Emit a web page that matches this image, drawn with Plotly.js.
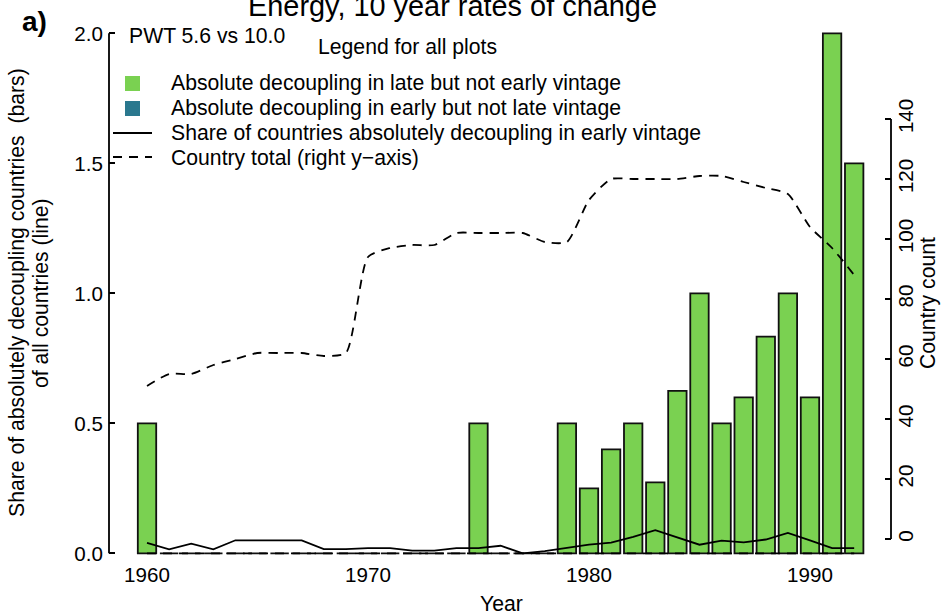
<!DOCTYPE html>
<html>
<head>
<meta charset="utf-8">
<script src="https://cdn.plot.ly/plotly-3.0.1.min.js"></script>
<style>html,body{margin:0;padding:0;background:#fff;}#chart{width:951px;height:613px;}</style>
</head>
<body>
<div id="chart"></div>
<script>
// ---- data ----
const years = [1960,1961,1962,1963,1964,1965,1966,1967,1968,1969,1970,1971,1972,1973,1974,1975,1976,1977,1978,1979,1980,1981,1982,1983,1984,1985,1986,1987,1988,1989,1990,1991,1992];
// bars: absolute decoupling in late but not early vintage
const lateNotEarly = [0.5,0,0,0,0,0,0,0,0,0,0,0,0,0,0,0.5,0,0,0,0.5,0.25,0.4,0.5,0.273,0.625,1.0,0.5,0.6,0.833,1.0,0.6,2.0,1.5];
// solid line: share of countries absolutely decoupling in early vintage
const earlyShare = [0.04,0.015,0.037,0.015,0.05,0.05,0.05,0.05,0.016,0.016,0.02,0.02,0.01,0.01,0.02,0.02,0.029,0,0.008,0.02,0.033,0.041,0.063,0.089,0.06,0.033,0.049,0.042,0.053,0.078,0.05,0.02,0.02];
// dashed line at the bottom (left axis)
const lateShare = [0,0,0,0,0,0,0,0,0,0,0,0,0,0,0,0,0,0,0,0,0,0,0,0,0,0,0,0,0,0,0,0,0];
// dashed line: country total (right axis)
const countryTotal = [51,55,55,58,60,62,62,62,61,62,94,97,98,98,102,102,102,102,99,99,113,120,120,120,120,121,121,119,117,115,104,97,88];

const xTickVals = [1960,1970,1980,1990];
const xTickText = ['1960','1970','1980','1990'];
const yTickVals = [0,0.5,1,1.5,2];
const yTickText = ['0.0','0.5','1.0','1.5','2.0'];
const y2TickVals = [0,20,40,60,80,100,120,140];
const y2TickText = ['0','20','40','60','80','100','120','140'];

const GREEN = '#7AD151', TEAL = '#2A788E';
const FONT = 'Liberation Sans, Arial, Helvetica, sans-serif';
const FS = 21.2, TFS = 20.6;

// ---- layout helpers (pixel -> paper) ----
const L = 109, R = 60, T = 20, B = 53, W = 951, H = 613;
const pw = W - L - R, ph = H - T - B;
const px = x => (x - L) / pw;
const py = y => (H - B - y) / ph;

const traces = [
  {type:'bar', x: years, y: lateNotEarly, width: 0.833, marker:{color:GREEN, line:{color:'#111', width:1.8}}, yaxis:'y', hoverinfo:'skip'},
  {type:'scatter', mode:'lines', x: years, y: lateShare, line:{color:'#000', width:1.8, dash:'9px,7px'}, yaxis:'y', hoverinfo:'skip'},
  {type:'scatter', mode:'lines', x: years, y: earlyShare, line:{color:'#000', width:1.8}, yaxis:'y', hoverinfo:'skip'},
  {type:'scatter', mode:'lines', x: years, y: countryTotal, line:{color:'#000', width:1.8, dash:'9px,7px', shape:'spline', smoothing:0.6}, yaxis:'y2', hoverinfo:'skip'}
];

function ann(text, x, y, opts) {
  return Object.assign({text:text, x:px(x), y:py(y), xref:'paper', yref:'paper', showarrow:false,
    xanchor:'center', yanchor:'middle', font:{family:FONT, size:FS, color:'#000'}}, opts||{});
}

const layout = {
  width: W, height: H,
  margin: {l:L, r:R, t:T, b:B, pad:0},
  paper_bgcolor:'#fff', plot_bgcolor:'#fff',
  showlegend:false,
  font:{family:FONT, size:FS, color:'#000'},
  bargap:0,
  xaxis:{range:[1958.28,1993.666], tickvals:xTickVals, ticktext:xTickText, ticks:'', showline:false, showgrid:false, zeroline:false, tickfont:{size:TFS}, fixedrange:true},
  yaxis:{range:[-0.0258,2.0512], tickvals:yTickVals, ticktext:yTickText, ticks:'inside', ticklen:6, tickwidth:1.8, tickcolor:'#000', ticklabelstandoff:5, showline:false, showgrid:false, zeroline:false, tickfont:{size:TFS}},
  yaxis2:{overlaying:'y', side:'right', range:[-7,173], tickvals:y2TickVals, ticktext:y2TickText, ticks:'inside', ticklen:6, tickwidth:1.8, tickcolor:'#000', tickangle:-90, showline:false, showgrid:false, zeroline:false, tickfont:{size:TFS}},
  shapes:[
    {type:'line', xref:'paper', yref:'y', x0:0, x1:0, y0:0, y1:2, line:{color:'#000', width:1.8}},
    {type:'line', xref:'paper', yref:'y2', x0:1, x1:1, y0:0, y1:140, line:{color:'#000', width:1.8}},
    {type:'rect', xref:'paper', yref:'paper', x0:px(125), x1:px(140), y0:py(91), y1:py(76), fillcolor:GREEN, line:{width:0}},
    {type:'rect', xref:'paper', yref:'paper', x0:px(125), x1:px(140), y0:py(116), y1:py(101), fillcolor:TEAL, line:{width:0}},
    {type:'line', xref:'paper', yref:'paper', x0:px(113), x1:px(152), y0:py(133), y1:py(133), line:{color:'#000', width:1.8}},
    {type:'line', xref:'paper', yref:'paper', x0:px(113), x1:px(152), y0:py(157), y1:py(157), line:{color:'#000', width:1.8, dash:'9px,7px'}}
  ],
  annotations:[
    ann('Energy, 10 year rates of change', 452, 6, {font:{family:FONT, size:28.9, color:'#000'}}),
    ann('<b>a)</b>', 34.5, 21, {font:{family:FONT, size:28, color:'#000'}}),
    ann('PWT 5.6 vs 10.0', 127, 35, {xanchor:'left'}),
    ann('Legend for all plots', 407, 47),
    ann('Absolute decoupling in late but not early vintage', 169, 83, {xanchor:'left'}),
    ann('Absolute decoupling in early but not late vintage', 169, 108, {xanchor:'left'}),
    ann('Share of countries absolutely decoupling in early vintage', 169, 133, {xanchor:'left'}),
    ann('Country total (right y\u2212axis)', 169, 158, {xanchor:'left'}),
    ann('Year', 501, 603),
    ann('Share of absolutely decoupling countries  (bars)', 17, 293, {textangle:-90}),
    ann('of all countries (line)', 41, 293, {textangle:-90}),
    ann('Country count', 928, 303, {textangle:-90})
  ]
};

Plotly.newPlot('chart', traces, layout, {staticPlot:true, displayModeBar:false});
</script>
</body>
</html>
